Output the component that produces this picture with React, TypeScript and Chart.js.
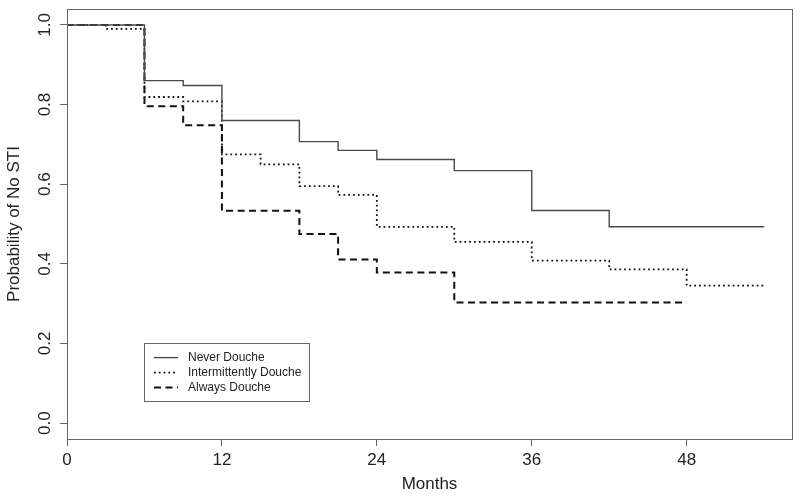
import React, { useEffect, useRef } from "react";
import { Chart, registerables } from "chart.js";

Chart.register(...registerables);

// ---- Data ----
const seriesNames = ["Never Douche", "Intermittently Douche", "Always Douche"];
const neverMonths = [0, 6, 9, 12, 18, 21, 24, 30, 36, 42, 54];
const neverSurv = [1.0, 0.86, 0.848, 0.76, 0.707, 0.685, 0.662, 0.634, 0.534, 0.493, 0.493];
const interMonths = [0, 3, 6, 9, 12, 15, 18, 21, 24, 30, 36, 42, 48, 54];
const interSurv = [1.0, 0.99, 0.819, 0.808, 0.675, 0.65, 0.595, 0.573, 0.493, 0.455, 0.408, 0.386, 0.345, 0.345];
const alwaysMonths = [0, 6, 9, 12, 18, 21, 24, 30, 48];
const alwaysSurv = [1.0, 0.796, 0.748, 0.533, 0.475, 0.411, 0.378, 0.303, 0.303];
const xTicks = [0, 12, 24, 36, 48];
const yTicks = [0.0, 0.2, 0.4, 0.6, 0.8, 1.0];
const xTitle = "Months";
const yTitle = "Probability of No STI";
const legendAnchor = [6, 0.2]; // legend top-left in data units (months, probability)

const FONT = "'Liberation Sans', Arial, Helvetica, sans-serif";
const TEXT = "#222";
const FRAME = "#666";

const lineStyles = [
  { color: "#4a4a4a", width: 1.4, dash: [] as number[] },
  { color: "#111", width: 1.8, dash: [1.8, 3] },
  { color: "#111", width: 2, dash: [7, 4.5] },
];

const boxPlugin = {
  id: "rbox",
  afterDraw(chart: any) {
    const { ctx, chartArea } = chart;
    ctx.save();
    ctx.strokeStyle = FRAME;
    ctx.lineWidth = 1;
    ctx.strokeRect(
      Math.round(chartArea.left) + 0.5,
      Math.round(chartArea.top) + 0.5,
      Math.round(chartArea.right - chartArea.left),
      Math.round(chartArea.bottom - chartArea.top)
    );
    ctx.restore();
  },
};

const legendPlugin = {
  id: "rlegend",
  afterDatasetsDraw(chart: any) {
    const { ctx, scales } = chart;
    const left = Math.round(scales.x.getPixelForValue(legendAnchor[0]));
    const top = Math.round(scales.y.getPixelForValue(legendAnchor[1]));
    const w = 165;
    const h = 58;
    ctx.save();
    ctx.fillStyle = "#fff";
    ctx.fillRect(left, top, w, h);
    ctx.strokeStyle = FRAME;
    ctx.lineWidth = 1;
    ctx.strokeRect(left + 0.5, top + 0.5, w, h);
    ctx.font = `12px ${FONT}`;
    ctx.textBaseline = "middle";
    ctx.textAlign = "left";
    seriesNames.forEach((name, i) => {
      const yy = top + 14.6 + i * 15;
      const st = lineStyles[i];
      ctx.strokeStyle = st.color;
      ctx.lineWidth = st.width;
      ctx.setLineDash(st.dash);
      ctx.beginPath();
      ctx.moveTo(left + 10, yy);
      ctx.lineTo(left + 34, yy);
      ctx.stroke();
      ctx.setLineDash([]);
      ctx.fillStyle = TEXT;
      ctx.fillText(name, left + 44, yy);
    });
    ctx.restore();
  },
};

export default function App() {
  const ref = useRef<HTMLCanvasElement | null>(null);

  useEffect(() => {
    if (!ref.current) return;
    const series = [
      { m: neverMonths, s: neverSurv },
      { m: interMonths, s: interSurv },
      { m: alwaysMonths, s: alwaysSurv },
    ];
    const chart = new Chart(ref.current, {
      type: "line",
      data: {
        datasets: series.map((d, i) => ({
          label: seriesNames[i],
          data: d.m.map((x, j) => ({ x, y: d.s[j] })),
          stepped: "before" as const,
          borderColor: lineStyles[i].color,
          borderWidth: lineStyles[i].width,
          borderDash: lineStyles[i].dash,
          borderCapStyle: "butt" as const,
          pointRadius: 0,
          fill: false,
        })),
      },
      options: {
        responsive: false,
        animation: false,
        events: [],
        layout: { padding: { top: 9, right: 8, left: 0, bottom: 0 } },
        plugins: { legend: { display: false }, tooltip: { enabled: false } },
        scales: {
          x: {
            type: "linear",
            min: 0,
            max: 56.16,
            afterBuildTicks: (s: any) => {
              s.ticks = xTicks.map((v) => ({ value: v }));
            },
            afterFit: (s: any) => {
              s.height = 63;
              s.paddingLeft = 0;
              s.paddingRight = 0;
            },
            grid: { display: true, drawOnChartArea: false, drawTicks: true, tickLength: 7, color: FRAME },
            border: { display: false },
            ticks: {
              font: { family: FONT, size: 17 },
              color: TEXT,
              padding: 4,
              maxRotation: 0,
              callback: (v: any) => String(v),
            },
            title: {
              display: true,
              text: xTitle,
              font: { family: FONT, size: 17 },
              color: TEXT,
              padding: { top: 0, bottom: 7 },
            },
          },
          y: {
            type: "linear",
            min: -0.04,
            max: 1.04,
            afterBuildTicks: (s: any) => {
              s.ticks = yTicks.map((v) => ({ value: v }));
            },
            afterFit: (s: any) => {
              s.width = 67;
              s.paddingTop = 0;
              s.paddingBottom = 0;
            },
            grid: { display: true, drawOnChartArea: false, drawTicks: true, tickLength: 7, color: FRAME },
            border: { display: false },
            ticks: {
              font: { family: FONT, size: 17 },
              color: TEXT,
              padding: 3,
              minRotation: 90,
              maxRotation: 90,
              crossAlign: "center",
              callback: (v: any) => Number(v).toFixed(1),
            },
            title: {
              display: true,
              text: yTitle,
              font: { family: FONT, size: 17 },
              color: TEXT,
              padding: { top: 4, bottom: 0 },
            },
          },
        },
      },
      plugins: [boxPlugin, legendPlugin],
    } as any);
    return () => chart.destroy();
  }, []);

  return (
    <div style={{ position: "absolute", left: 0, top: 0, width: 800, height: 502, background: "#fff" }}>
      <canvas ref={ref} width={800} height={502} style={{ display: "block", width: 800, height: 502 }} />
    </div>
  );
}
